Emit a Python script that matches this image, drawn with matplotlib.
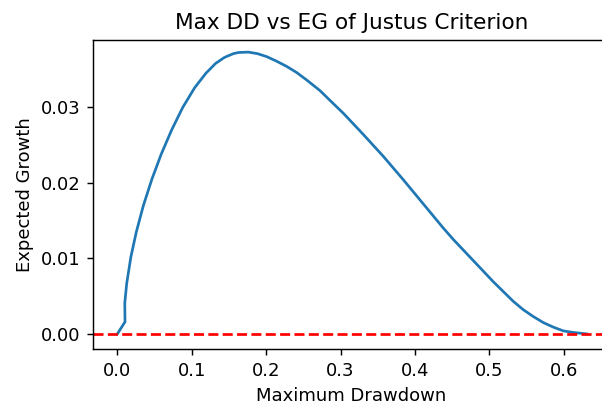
import matplotlib
matplotlib.use("Agg")
import matplotlib.pyplot as plt

max_drawdown = [0.0, 0.0103, 0.0100, 0.0126, 0.0182, 0.0255, 0.0350, 0.0465, 0.0590,
                0.0730, 0.0880, 0.1040, 0.1190, 0.1320, 0.1440, 0.1560, 0.1630,
                0.1760, 0.1882, 0.2008, 0.2140, 0.2277, 0.2410, 0.2546, 0.2724,
                0.2880, 0.3038, 0.3306, 0.3575, 0.3844, 0.4113, 0.4382, 0.4516,
                0.4785, 0.5054, 0.5323, 0.5457, 0.5591, 0.5726, 0.5860, 0.5995,
                0.6129, 0.6310]
expected_growth = [0.0, 0.0016, 0.0041, 0.0067, 0.0102, 0.0135, 0.0170, 0.0205, 0.0238,
                   0.0270, 0.0300, 0.0326, 0.0345, 0.0358, 0.0366, 0.0371, 0.03725,
                   0.0373, 0.0371, 0.0367, 0.0361, 0.0354, 0.0346, 0.0336, 0.0322,
                   0.0307, 0.0292, 0.0264, 0.0235, 0.0204, 0.0172, 0.0140, 0.0125,
                   0.0097, 0.0069, 0.0043, 0.0032, 0.0023, 0.0015, 0.0009, 0.0004,
                   0.0002, 0.0]
zero_line = 0.0
x_ticks = [0.0, 0.1, 0.2, 0.3, 0.4, 0.5, 0.6]
y_ticks = [0.0, 0.01, 0.02, 0.03]

dpi = 130
fig = plt.figure(figsize=(602 / dpi, 408 / dpi), dpi=dpi)
ax = fig.add_axes([0.155, 0.1439, 0.8575, 0.758])
ax.plot(max_drawdown, expected_growth, color="#1f77b4", solid_joinstyle="round")
ax.axhline(zero_line, color="red", linestyle="--")
ax.set_xlim(-0.0323, 0.6615)
ax.set_ylim(-0.00203, 0.0389)
ax.set_xticks(x_ticks)
ax.set_yticks(y_ticks)
ax.set_xlabel("Maximum Drawdown")
ax.set_ylabel("Expected Growth")
ax.set_title("Max DD vs EG of Justus Criterion")
fig.savefig("out.png", dpi=dpi)
